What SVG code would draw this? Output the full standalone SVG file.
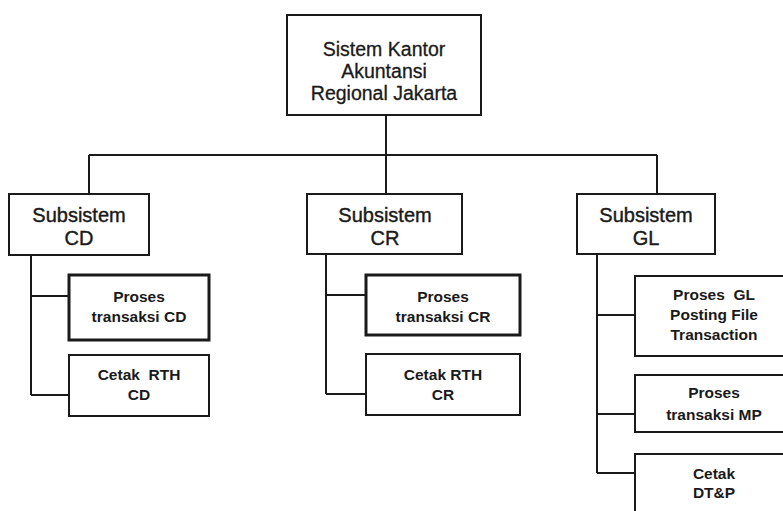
<svg xmlns="http://www.w3.org/2000/svg" width="783" height="511" viewBox="0 0 783 511">
<style>
  .box { fill: #ffffff; stroke: #1a1a1a; stroke-width: 2; }
  .thick { stroke-width: 3; }
  .conn { stroke: #1a1a1a; stroke-width: 2; fill: none; }
  .t1 { font-family: "Liberation Sans", Arial, sans-serif; font-size: 19.5px; fill: #1a1a1a; stroke: #1a1a1a; stroke-width: 0.3; text-anchor: middle; }
  .t2 { font-family: "Liberation Sans", Arial, sans-serif; font-size: 20px; fill: #1a1a1a; stroke: #1a1a1a; stroke-width: 0.4; text-anchor: middle; }
  .t3 { font-family: "Liberation Sans", Arial, sans-serif; font-size: 15.5px; font-weight: bold; fill: #1a1a1a; text-anchor: middle; }
</style>
<rect width="783" height="511" fill="#ffffff"/>
<g id="connectors">
  <path class="conn" d="M386,115 V155 M89,155 H657 M89,155 V194 M386,155 V194 M657,155 V194"/>
  <path class="conn" d="M31,255 V395 M31,296 H69 M31,395 H69"/>
  <path class="conn" d="M326,254 V394 M326,295 H366 M326,394 H366"/>
  <path class="conn" d="M597,254 V473 M597,315 H635 M597,414 H635 M597,473 H635"/>
</g>
<g id="root">
  <rect class="box" x="287" y="15" width="194" height="100"/>
  <text class="t1" x="384" y="56">Sistem Kantor</text>
  <text class="t1" x="384" y="78">Akuntansi</text>
  <text class="t1" x="384" y="100">Regional Jakarta</text>
</g>
<g id="sub-cd">
  <rect class="box" x="9" y="194" width="140" height="61"/>
  <text class="t2" x="79" y="222">Subsistem</text>
  <text class="t2" x="79" y="245">CD</text>
</g>
<g id="sub-cr">
  <rect class="box" x="307" y="194" width="155" height="60"/>
  <text class="t2" x="385" y="222">Subsistem</text>
  <text class="t2" x="385" y="245">CR</text>
</g>
<g id="sub-gl">
  <rect class="box" x="577" y="194" width="138" height="60"/>
  <text class="t2" x="646" y="222">Subsistem</text>
  <text class="t2" x="646" y="245">GL</text>
</g>
<g id="cd-proses">
  <rect class="box thick" x="69" y="275" width="140" height="65"/>
  <text class="t3" x="139" y="302">Proses</text>
  <text class="t3" x="139" y="322">transaksi CD</text>
</g>
<g id="cd-cetak">
  <rect class="box" x="69" y="355" width="140" height="61"/>
  <text class="t3" x="139" y="380" xml:space="preserve">Cetak  RTH</text>
  <text class="t3" x="139" y="400">CD</text>
</g>
<g id="cr-proses">
  <rect class="box thick" x="366" y="275" width="154" height="60"/>
  <text class="t3" x="443" y="302">Proses</text>
  <text class="t3" x="443" y="322">transaksi CR</text>
</g>
<g id="cr-cetak">
  <rect class="box" x="366" y="354" width="154" height="61"/>
  <text class="t3" x="443" y="380">Cetak RTH</text>
  <text class="t3" x="443" y="400">CR</text>
</g>
<g id="gl-proses">
  <rect class="box" x="635" y="276" width="160" height="80"/>
  <text class="t3" x="714" y="300" xml:space="preserve">Proses  GL</text>
  <text class="t3" x="714" y="320">Posting File</text>
  <text class="t3" x="714" y="340">Transaction</text>
</g>
<g id="gl-mp">
  <rect class="box" x="635" y="375" width="160" height="57"/>
  <text class="t3" x="714" y="398">Proses</text>
  <text class="t3" x="714" y="420">transaksi MP</text>
</g>
<g id="gl-cetak">
  <rect class="box" x="635" y="454" width="160" height="70"/>
  <text class="t3" x="714" y="479">Cetak</text>
  <text class="t3" x="714" y="498">DT&amp;P</text>
</g>
</svg>
